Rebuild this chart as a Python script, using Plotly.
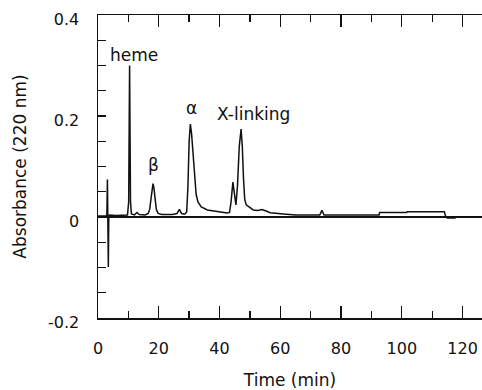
import plotly.graph_objects as go

# Chromatogram trace: time (min) and absorbance (220 nm)
time_min = [0, 2.9, 3.1, 3.25, 3.4, 3.55, 3.8, 6.0, 9.7, 10.1, 10.4, 10.7, 11.0,
            12.0, 12.8, 13.6, 15.5, 16.5, 17.0, 17.4, 17.8, 18.1, 18.4, 18.8, 19.2,
            19.8, 21.0, 24.5, 26.0, 26.8, 27.5, 28.3, 28.6, 29.2, 29.6, 30.0, 30.4,
            30.8, 31.3, 31.8, 32.3, 32.9, 34.0, 36.0, 39.0, 42.5, 43.3, 43.8, 44.4,
            44.9, 45.4, 45.9, 46.5, 47.1, 47.5, 47.9, 48.3, 48.8, 50.0, 51.1, 52.5,
            54.0, 55.3, 56.7, 61.0, 65.0, 73.0, 73.7, 74.4, 92.5, 92.7, 101.6, 101.8,
            114.0, 114.5, 115.0, 117.5, 118.0, 126.4]
absorbance = [0.002, 0.002, 0.074, 0.0, -0.099, 0.0, 0.004, 0.003, 0.004, 0.03, 0.300, 0.03, 0.006,
              0.004, 0.009, 0.005, 0.004, 0.007, 0.015, 0.034, 0.058, 0.066, 0.058, 0.034, 0.015,
              0.007, 0.005, 0.005, 0.007, 0.015, 0.007, 0.006, 0.006, 0.010, 0.06, 0.15, 0.184,
              0.165, 0.12, 0.08, 0.045, 0.03, 0.02, 0.014, 0.011, 0.008, 0.009, 0.03, 0.069,
              0.045, 0.024, 0.06, 0.14, 0.174, 0.14, 0.075, 0.035, 0.024, 0.018, 0.014, 0.013,
              0.015, 0.012, 0.0085, 0.006, 0.004, 0.004, 0.013, 0.004, 0.004, 0.009, 0.009, 0.0105,
              0.0105, 0.0, -0.002, -0.002, 0.0, 0.0]

# Peak labels
peak_names = ["heme", "β", "α", "X-linking"]
peak_label_x = [11.95, 18.4, 30.7, 51.2]
peak_label_y = [0.321, 0.103, 0.216, 0.203]

y_tick_vals = [-0.2, 0, 0.2, 0.4]
y_tick_text = ["-0.2", "0", "0.2", "0.4"]
x_tick_vals = [0, 20, 40, 60, 80, 100, 120]

FONT = "DejaVu Sans"
INK = "#111111"

fig = go.Figure()
fig.add_trace(go.Scatter(x=time_min, y=absorbance, mode="lines",
                         line=dict(color=INK, width=1.5), showlegend=False,
                         hoverinfo="skip"))

for name, px, py in zip(peak_names, peak_label_x, peak_label_y):
    fig.add_annotation(x=px, y=py, text=name, showarrow=False,
                       xanchor="center", yanchor="middle",
                       font=dict(family=FONT, size=17, color=INK))

fig.update_layout(
    width=482, height=390,
    margin=dict(l=98, r=0, t=15, b=72),
    paper_bgcolor="white", plot_bgcolor="white",
    font=dict(family=FONT, size=16, color=INK),
    showlegend=False,
)

fig.update_xaxes(
    range=[0, 126.4], tickvals=x_tick_vals,
    ticks="inside", ticklen=12, tickwidth=1.3, tickcolor=INK,
    minor=dict(dtick=10, tick0=0, ticks="inside", ticklen=7, tickwidth=1.3, tickcolor=INK),
    showline=True, linecolor=INK, linewidth=1.5, mirror="ticks",
    showgrid=False, zeroline=False, automargin=False,
    ticklabelstandoff=15,
    tickfont=dict(family=FONT, size=16, color=INK),
    title=dict(text="Time (min)", font=dict(family=FONT, size=17, color=INK), standoff=18),
)

fig.update_yaxes(
    range=[-0.2, 0.4], tickvals=y_tick_vals, ticktext=y_tick_text,
    ticks="inside", ticklen=8, tickwidth=1.3, tickcolor=INK,
    minor=dict(dtick=0.05, tick0=0, ticks="inside", ticklen=8, tickwidth=1.3, tickcolor=INK),
    showline=True, linecolor=INK, linewidth=1.5, mirror=False,
    showgrid=False, zeroline=True, zerolinecolor=INK, zerolinewidth=1.8,
    automargin=False,
    ticklabelstandoff=14, ticklabelshift=4,
    tickfont=dict(family=FONT, size=16, color=INK),
    title=dict(text="Absorbance (220 nm)", font=dict(family=FONT, size=17, color=INK), standoff=17),
)

# Remove the default 8px page margin so the 482x390 figure fills the window exactly.
fig.write_html("out.html",
               config={"displayModeBar": False, "staticPlot": True},
               post_script="document.body.style.margin='0';document.body.style.overflow='hidden';")
